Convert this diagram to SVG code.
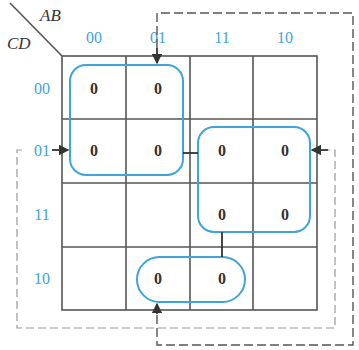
<svg xmlns="http://www.w3.org/2000/svg" width="359" height="350" viewBox="0 0 359 350">
<style>
.grid{fill:none;stroke:#555;stroke-width:1.6}
.lbl{font-family:"Liberation Serif",serif;font-size:16px;fill:#3fa3dc;text-anchor:middle}
.var{font-family:"Liberation Serif",serif;font-size:17px;font-style:italic;fill:#333}
.z{font-family:"Liberation Serif",serif;font-size:16px;font-weight:bold;fill:#333;text-anchor:middle}
.loop{fill:none;stroke:#3fa3dc;stroke-width:2}
.dash1{fill:none;stroke:#555;stroke-width:1.4;stroke-dasharray:9 4}
.dash2{fill:none;stroke:#999;stroke-width:1.2;stroke-dasharray:8 4}
.con{fill:none;stroke:#333;stroke-width:1.8}
</style>
<defs>
<marker id="ar" viewBox="0 0 8 8" refX="7" refY="4" markerWidth="6" markerHeight="6" orient="auto">
<path d="M0,0 L8,4 L0,8 z" fill="#333"/>
</marker>
</defs>
<rect width="359" height="350" fill="#fff"/>
<g id="grid">
<rect class="grid" x="62" y="56" width="255" height="254"/>
<path class="grid" d="M126,56V310M190,56V310M253,56V310M62,119H317M62,183H317M62,247H317"/>
<path class="grid" d="M10,3L62,56"/>
<text class="var" x="40" y="21">AB</text>
<text class="var" x="7" y="49">CD</text>
</g>
<g id="labels">
<text class="lbl" x="94" y="43">00</text>
<text class="lbl" x="158" y="43">01</text>
<text class="lbl" x="222" y="43">11</text>
<text class="lbl" x="285" y="43">10</text>
<text class="lbl" x="42" y="94">00</text>
<text class="lbl" x="42" y="156">01</text>
<text class="lbl" x="42" y="220">11</text>
<text class="lbl" x="42" y="284">10</text>
</g>
<g id="cells">
<text class="z" x="94" y="94">0</text>
<text class="z" x="158" y="94">0</text>
<text class="z" x="94" y="156">0</text>
<text class="z" x="158" y="156">0</text>
<text class="z" x="222" y="156">0</text>
<text class="z" x="285" y="156">0</text>
<text class="z" x="222" y="220">0</text>
<text class="z" x="285" y="220">0</text>
<text class="z" x="158" y="284">0</text>
<text class="z" x="222" y="284">0</text>
</g>
<g id="loop1"><rect class="loop" x="70" y="65" width="113" height="110" rx="16"/></g>
<g id="loop2"><rect class="loop" x="198" y="127" width="112" height="105" rx="16"/></g>
<g id="loop3"><rect class="loop" x="137" y="257" width="108" height="45" rx="22.5"/></g>
<g id="connectors">
<path class="dash1" d="M157,48V13H353V345H157V314"/>
<path class="con" d="M157,48V63" marker-end="url(#ar)"/>
<path class="con" d="M157,314V304" marker-end="url(#ar)"/>
<path class="dash2" d="M22,150H17V328H335V150H328"/>
<path class="con" d="M52,150H68" marker-end="url(#ar)"/>
<path class="con" d="M328,150H312" marker-end="url(#ar)"/>
<path class="con" d="M183,153H198"/>
<path class="con" d="M222,232V257"/>
</g>
</svg>
